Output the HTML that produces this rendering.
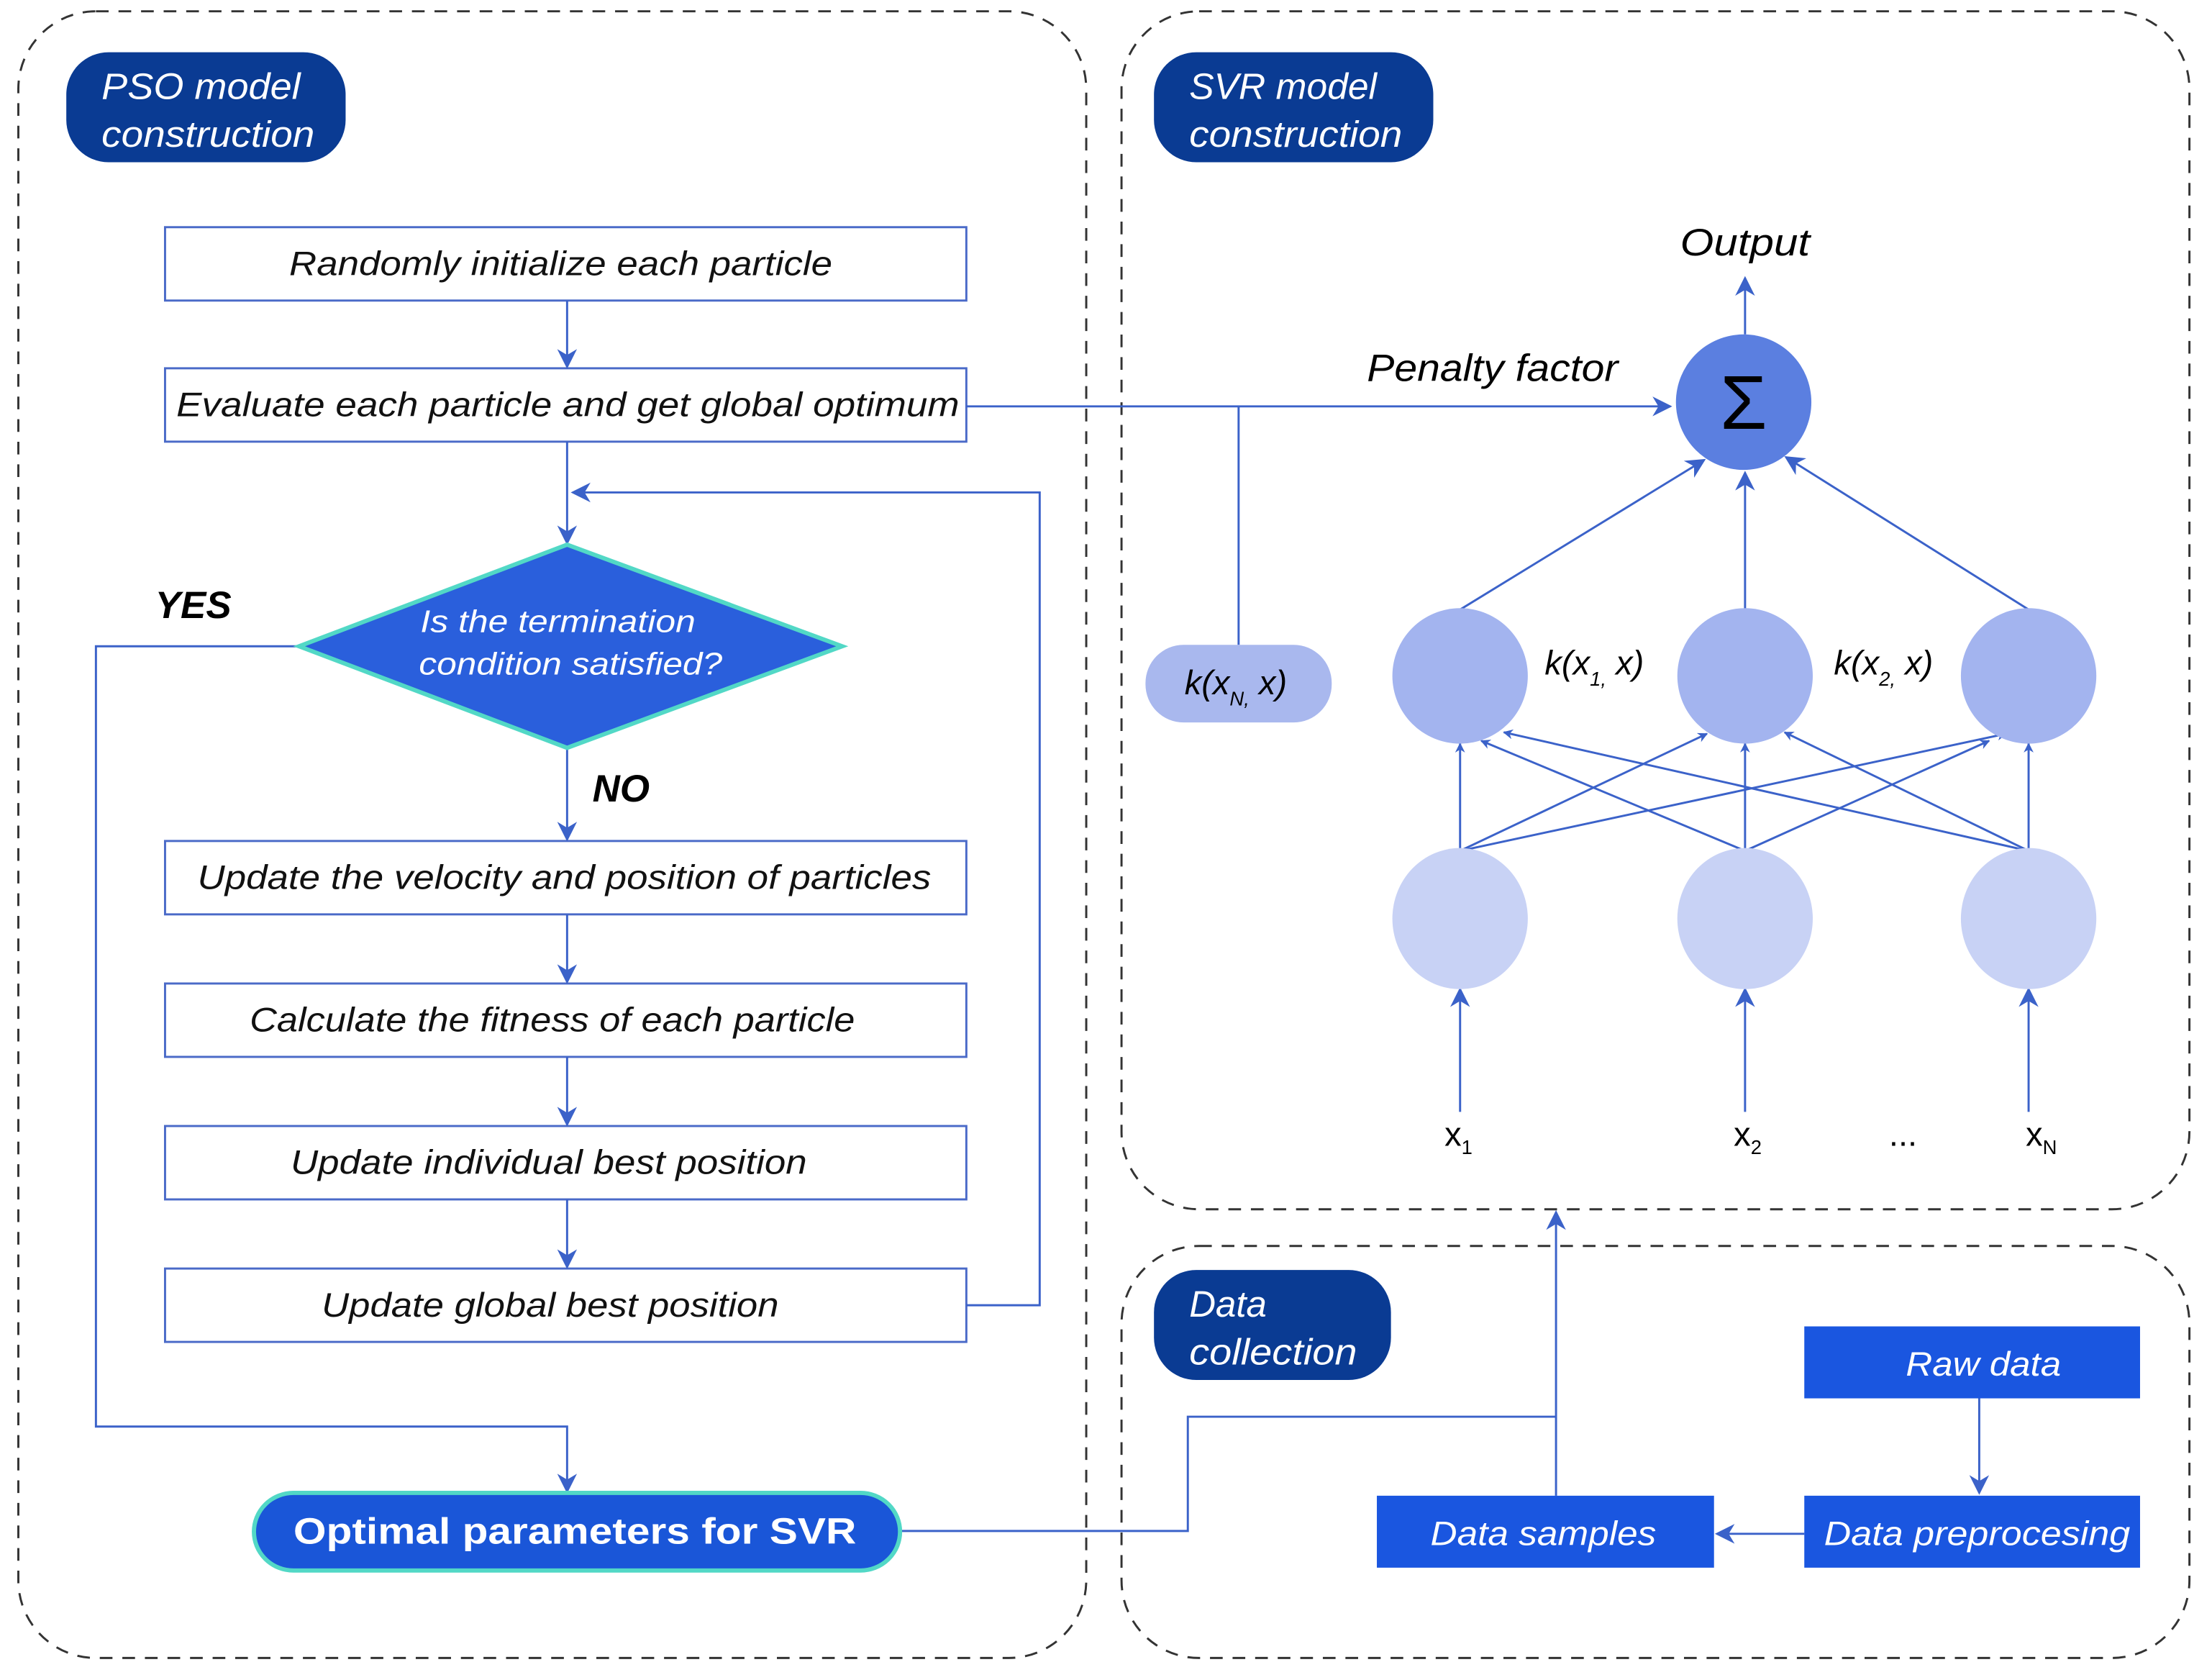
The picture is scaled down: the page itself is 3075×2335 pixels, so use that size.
<!DOCTYPE html>
<html><head><meta charset="utf-8"><style>html,body{margin:0;padding:0;background:#fff}svg{display:block}text{font-family:"Liberation Sans",sans-serif}</style></head>
<body>
<svg width="3075" height="2335" viewBox="0 0 1568 1190.6" preserveAspectRatio="none" xmlns="http://www.w3.org/2000/svg">
<defs>
<marker id="a" viewBox="0 0 10 10" refX="9" refY="5" markerWidth="7" markerHeight="7" orient="auto" markerUnits="userSpaceOnUse"><path d="M0,0 L10,5 L0,10 L3,5 z" fill="#3b62c9"/></marker>
<marker id="b" viewBox="0 0 10 10" refX="9" refY="5" markerWidth="14" markerHeight="14" orient="auto" markerUnits="userSpaceOnUse"><path d="M0,0 L10,5 L0,10 L3,5 z" fill="#3b62c9"/></marker>
</defs>
<g fill="none" stroke="#333" stroke-width="1.5" stroke-dasharray="9,7">
<rect x="13" y="8" width="757" height="1167" rx="55"/>
<rect x="795" y="8" width="757" height="849" rx="55"/>
<rect x="795" y="883" width="757" height="292" rx="55"/>
</g>
<g fill="#0a3b93">
<rect x="47" y="37" width="198" height="78" rx="30"/>
<rect x="818" y="37" width="198" height="78" rx="30"/>
<rect x="818" y="900" width="168" height="78" rx="30"/>
</g>
<g fill="#fff" font-size="26" font-style="italic" lengthAdjust="spacingAndGlyphs">
<text x="72" y="70" textLength="141" lengthAdjust="spacingAndGlyphs">PSO model</text><text x="72" y="104" textLength="151" lengthAdjust="spacingAndGlyphs">construction</text>
<text x="843" y="70" textLength="133" lengthAdjust="spacingAndGlyphs">SVR model</text><text x="843" y="104" textLength="151" lengthAdjust="spacingAndGlyphs">construction</text>
<text x="843" y="933">Data</text><text x="843" y="967" textLength="119" lengthAdjust="spacingAndGlyphs">collection</text>
</g>
<g fill="#fff" stroke="#4a6ac8" stroke-width="1.5">
<rect x="117" y="161" width="568" height="52"/>
<rect x="117" y="261" width="568" height="52"/>
<rect x="117" y="596" width="568" height="52"/>
<rect x="117" y="697" width="568" height="52"/>
<rect x="117" y="798" width="568" height="52"/>
<rect x="117" y="899" width="568" height="52"/>
</g>
<g font-size="24" font-style="italic" fill="#111">
<text x="205" y="195" textLength="385" lengthAdjust="spacingAndGlyphs">Randomly initialize each particle</text>
<text x="125" y="295" textLength="555" lengthAdjust="spacingAndGlyphs">Evaluate each particle and get global optimum</text>
<text x="140" y="630" textLength="520" lengthAdjust="spacingAndGlyphs">Update the velocity and position of particles</text>
<text x="177" y="731" textLength="429" lengthAdjust="spacingAndGlyphs">Calculate the fitness of each particle</text>
<text x="206" y="832" textLength="366" lengthAdjust="spacingAndGlyphs">Update individual best position</text>
<text x="228" y="933" textLength="324" lengthAdjust="spacingAndGlyphs">Update global best position</text>
</g>
<g stroke="#3b62c9" stroke-width="1.5" fill="none">
<line x1="402" y1="213" x2="402" y2="260" marker-end="url(#b)"/>
<line x1="402" y1="313" x2="402" y2="385" marker-end="url(#b)"/>
<polyline points="685,925 737,925 737,349 406,349" marker-end="url(#b)"/>
<line x1="402" y1="530" x2="402" y2="595" marker-end="url(#b)"/>
<line x1="402" y1="648" x2="402" y2="696" marker-end="url(#b)"/>
<line x1="402" y1="749" x2="402" y2="797" marker-end="url(#b)"/>
<line x1="402" y1="850" x2="402" y2="898" marker-end="url(#b)"/>
<polyline points="212,458 68,458 68,1011 402,1011 402,1057" marker-end="url(#b)"/>
<polyline points="638,1085 842,1085 842,1004 1103,1004"/>
<line x1="1103" y1="1060" x2="1103" y2="859" marker-end="url(#b)"/>
<line x1="685" y1="288" x2="1184" y2="288" marker-end="url(#b)"/>
<line x1="878" y1="288" x2="878" y2="457"/>
<line x1="1237" y1="237" x2="1237" y2="197" marker-end="url(#b)"/>
<line x1="1035" y1="432" x2="1208" y2="326" marker-end="url(#b)"/>
<line x1="1237" y1="432" x2="1237" y2="335" marker-end="url(#b)"/>
<line x1="1438" y1="432" x2="1266" y2="324" marker-end="url(#b)"/>
<line x1="1035" y1="603" x2="1035" y2="527" marker-end="url(#a)"/>
<line x1="1035" y1="603" x2="1210" y2="520" marker-end="url(#a)"/>
<line x1="1035" y1="603" x2="1422" y2="520" marker-end="url(#a)"/>
<line x1="1237" y1="603" x2="1050" y2="525" marker-end="url(#a)"/>
<line x1="1237" y1="603" x2="1237" y2="527" marker-end="url(#a)"/>
<line x1="1237" y1="603" x2="1410" y2="525" marker-end="url(#a)"/>
<line x1="1438" y1="603" x2="1066" y2="519" marker-end="url(#a)"/>
<line x1="1438" y1="603" x2="1265" y2="519" marker-end="url(#a)"/>
<line x1="1438" y1="603" x2="1438" y2="527" marker-end="url(#a)"/>
<line x1="1035" y1="788" x2="1035" y2="701" marker-end="url(#b)"/>
<line x1="1237" y1="788" x2="1237" y2="701" marker-end="url(#b)"/>
<line x1="1438" y1="788" x2="1438" y2="701" marker-end="url(#b)"/>
<line x1="1403" y1="991" x2="1403" y2="1058" marker-end="url(#b)"/>
<line x1="1279" y1="1087" x2="1217" y2="1087" marker-end="url(#b)"/>
</g>
<polygon points="402,386 597,458 402,530 212,458" fill="#2a5fdc" stroke="#52d8c6" stroke-width="3"/>
<g fill="#fff" font-size="22" font-style="italic">
<text x="298" y="448" textLength="195" lengthAdjust="spacingAndGlyphs">Is the termination</text>
<text x="297" y="478" textLength="215" lengthAdjust="spacingAndGlyphs">condition satisfied?</text>
</g>
<g font-size="27" font-weight="bold" font-style="italic" fill="#000">
<text x="110" y="438">YES</text><text x="420" y="568">NO</text>
</g>
<rect x="180" y="1058" width="458" height="55" rx="28" fill="#1a56d8" stroke="#52d8c6" stroke-width="3"/>
<text x="208" y="1094" fill="#fff" font-size="26" font-weight="bold" textLength="399" lengthAdjust="spacingAndGlyphs">Optimal parameters for SVR</text>
<rect x="812" y="457" width="132" height="55" rx="27" fill="#a9b8ee"/>
<text x="876" y="492" font-size="24" font-style="italic" text-anchor="middle">k(x<tspan font-size="14" dy="8">N,</tspan><tspan dy="-8"> x)</tspan></text>
<circle cx="1236" cy="285" r="48" fill="#5b7fe0"/>
<text x="1236" y="304" font-size="54" text-anchor="middle" fill="#000">Σ</text>
<text x="1191" y="181" font-size="27" font-style="italic" textLength="92" lengthAdjust="spacingAndGlyphs">Output</text>
<text x="969" y="270" font-size="27" font-style="italic" textLength="178" lengthAdjust="spacingAndGlyphs">Penalty factor</text>
<g fill="#a3b4ef"><circle cx="1035" cy="479" r="48"/><circle cx="1237" cy="479" r="48"/><circle cx="1438" cy="479" r="48"/></g>
<g fill="#c8d2f5"><ellipse cx="1035" cy="651" rx="48" ry="50"/><ellipse cx="1237" cy="651" rx="48" ry="50"/><ellipse cx="1438" cy="651" rx="48" ry="50"/></g>
<g font-size="24" font-style="italic">
<text x="1095" y="478">k(x<tspan font-size="14" dy="8">1,</tspan><tspan dy="-8"> x)</tspan></text>
<text x="1300" y="478">k(x<tspan font-size="14" dy="8">2,</tspan><tspan dy="-8"> x)</tspan></text>
</g>
<g font-size="24">
<text x="1024" y="812">x<tspan font-size="14" dy="6">1</tspan></text>
<text x="1229" y="812">x<tspan font-size="14" dy="6">2</tspan></text>
<text x="1339" y="812">...</text>
<text x="1436" y="812">x<tspan font-size="14" dy="6">N</tspan></text>
</g>
<g fill="#1a56e0">
<rect x="1279" y="940" width="238" height="51"/>
<rect x="1279" y="1060" width="238" height="51"/>
<rect x="976" y="1060" width="239" height="51"/>
</g>
<g fill="#fff" font-size="24" font-style="italic">
<text x="1351" y="975" textLength="110" lengthAdjust="spacingAndGlyphs">Raw data</text>
<text x="1293" y="1095" textLength="217" lengthAdjust="spacingAndGlyphs">Data preprocesing</text>
<text x="1014" y="1095" textLength="160" lengthAdjust="spacingAndGlyphs">Data samples</text>
</g>
</svg>
</body></html>
